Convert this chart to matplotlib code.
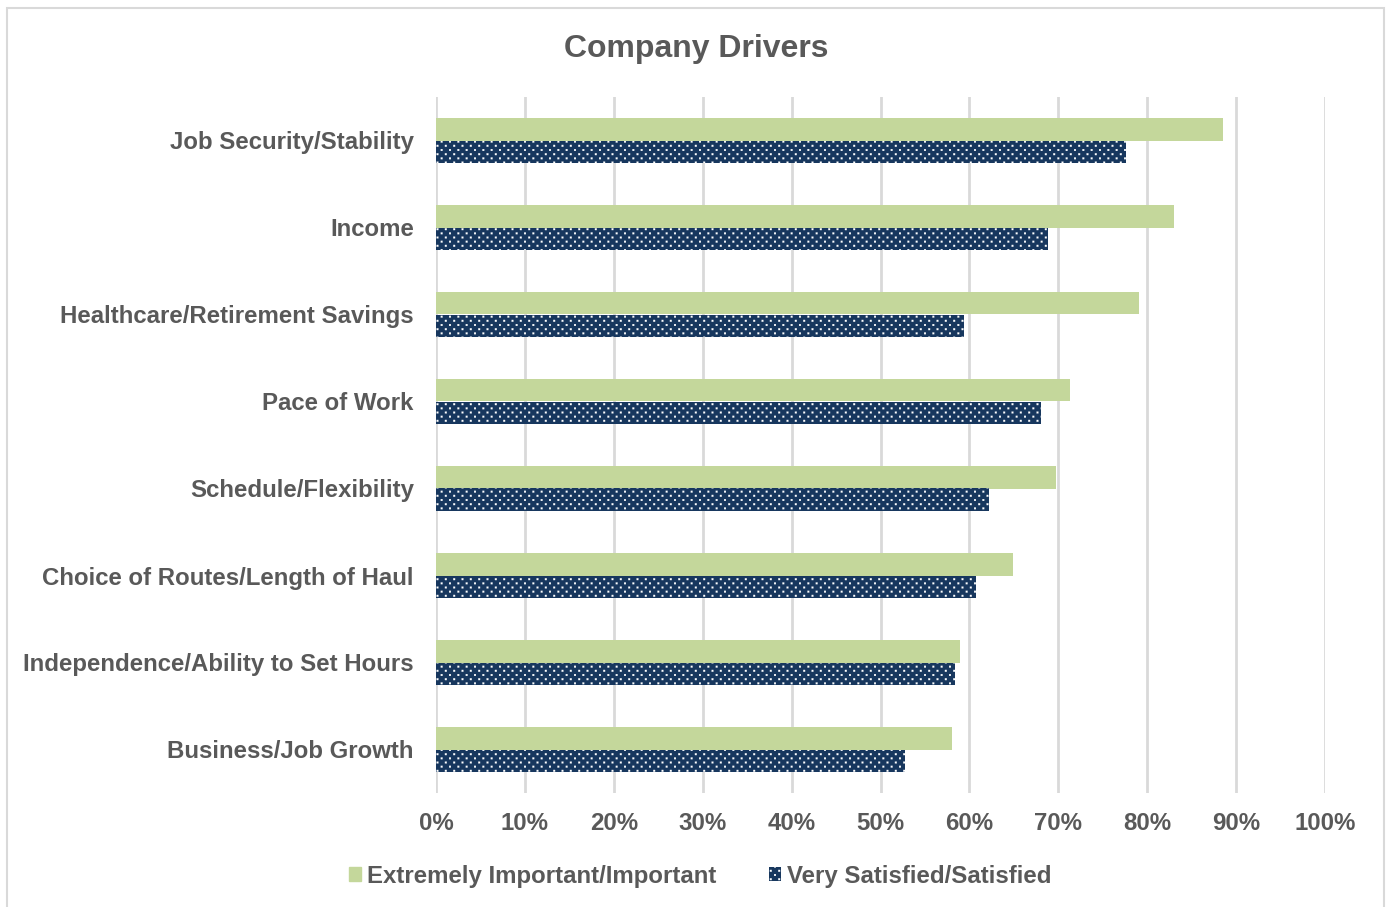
import matplotlib
matplotlib.use("Agg")
import numpy as np
import matplotlib.pyplot as plt
from matplotlib import hatch as mhatch
from matplotlib.path import Path
from matplotlib.patches import Rectangle
from matplotlib.ticker import PercentFormatter

plt.rcParams['font.family'] = ['Liberation Sans', 'DejaVu Sans']
plt.rcParams['hatch.linewidth'] = 0.1


class StaggeredDots(mhatch.HatchPatternBase):
    """Small square dots, rows twice as dense as columns, odd rows shifted."""

    def __init__(self, hatch, density):
        k = hatch.count('.')
        self.ncols = k * density
        self.nrows = 2 * self.ncols
        if k == 0:
            self.num_vertices = 0
            return
        n_even = self.nrows // 2 + 1
        n_odd = self.nrows // 2
        self.num_shapes = n_even * (self.ncols + 1) + n_odd * self.ncols
        self.num_vertices = self.num_shapes * 5

    def set_vertices_and_codes(self, vertices, codes):
        step = 1.0 / self.ncols
        half = 0.11 * step
        sq = np.array([[-half, -half], [half, -half], [half, half],
                       [-half, half], [-half, -half]])
        sc = np.array([Path.MOVETO, Path.LINETO, Path.LINETO, Path.LINETO,
                       Path.CLOSEPOLY], dtype=Path.code_type)
        vparts, cparts = [], []
        for row in range(self.nrows + 1):
            y = row / self.nrows
            if row % 2 == 0:
                cols = np.linspace(0, 1, self.ncols + 1)
            else:
                cols = np.linspace(step / 2, 1 - step / 2, self.ncols)
            for x in cols:
                vparts.append(sq + [x, y])
                cparts.append(sc)
        np.concatenate(vparts, out=vertices)
        np.concatenate(cparts, out=codes)


mhatch._hatch_types = [t for t in mhatch._hatch_types
                       if t is not mhatch.SmallFilledCircles] + [StaggeredDots]

categories = [
    "Job Security/Stability",
    "Income",
    "Healthcare/Retirement Savings",
    "Pace of Work",
    "Schedule/Flexibility",
    "Choice of Routes/Length of Haul",
    "Independence/Ability to Set Hours",
    "Business/Job Growth",
]
important = [88.5, 83.0, 79.1, 71.3, 69.7, 64.9, 58.9, 58.0]
satisfied = [77.6, 68.8, 59.4, 68.0, 62.2, 60.7, 58.4, 52.8]
series_names = ["Extremely Important/Important", "Very Satisfied/Satisfied"]

GREEN = "#C4D79B"
NAVY = "#17375E"
TEXT = "#595959"
GRID = "#D9D9D9"
FS = 17.3

fig = plt.figure(figsize=(13.86, 9.07), dpi=100)
ax = fig.add_axes([436 / 1386, 1 - 793 / 907, (1325 - 436) / 1386, (793 - 97) / 907])

n = len(categories)
pos = list(range(n))
h = 0.264
ax.barh([p - h / 2 for p in pos], important, height=h, color=GREEN, linewidth=0)
ax.barh([p + h / 2 for p in pos], satisfied, height=h, color=NAVY,
        edgecolor="white", hatch="..", linewidth=0)

ax.set_ylim(n - 0.5, -0.5)
ax.set_xlim(0, 100)
ax.set_xticks(range(0, 101, 10))
ax.xaxis.set_major_formatter(PercentFormatter(decimals=0))
ax.set_yticks(pos)
ax.set_yticklabels(categories)
ax.grid(axis="x", color=GRID, linewidth=2)
ax.set_axisbelow(True)
for s in ax.spines.values():
    s.set_visible(False)
ax.tick_params(length=0, labelsize=FS, labelcolor=TEXT)
ax.tick_params(axis="y", pad=16)
ax.tick_params(axis="x", pad=14)
for lbl in ax.get_xticklabels() + ax.get_yticklabels():
    lbl.set_fontweight("bold")

fig.text(696 / 1386, 1 - 49 / 907, "Company Drivers", ha="center", va="center",
         fontsize=23, fontweight="bold", color=TEXT)

# legend
handles = [Rectangle((0, 0), 1, 1, color=GREEN),
           Rectangle((0, 0), 1, 1, facecolor=NAVY, edgecolor="white", hatch="..", linewidth=0)]
leg = fig.legend(handles, series_names, loc="center", bbox_to_anchor=(700 / 1386, 1 - 876 / 907),
                 ncol=2, frameon=False, handlelength=0.5, handleheight=0.5, handletextpad=0.25,
                 columnspacing=2.2, prop={"size": FS, "weight": "bold"})
for t in leg.get_texts():
    t.set_color(TEXT)

# outer frame
fig.patches.append(Rectangle((7 / 1386, -0.01), (1384 - 7) / 1386, 1 - 8 / 907 + 0.01,
                             transform=fig.transFigure, fill=False, edgecolor=GRID, linewidth=1.5))

fig.savefig("out.png", dpi=100, facecolor="white")
